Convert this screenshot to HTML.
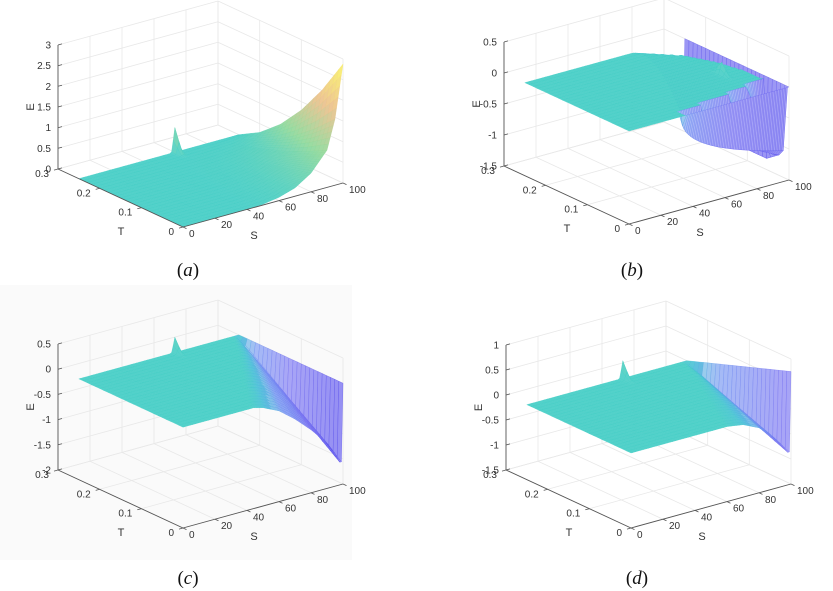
<!DOCTYPE html>
<html><head><meta charset="utf-8"><style>
html,body{margin:0;padding:0;background:#fff;}
svg{display:block;font-family:"Liberation Sans",sans-serif;}
</style></head><body>
<svg id="fig" width="833" height="591" viewBox="0 0 833 591">
<rect x="0" y="285" width="352" height="275" fill="#fafafa"/>
</svg>
<script>
// ---- data ----
const T_NODES = [0, 0.05, 0.1, 0.15, 0.2, 0.25];
const S_TICKS = [0, 20, 40, 60, 80, 100];
const T_TICKS = [0, 0.1, 0.2, 0.3];
const T_TICK_LABELS = ["0", "0.1", "0.2", "0.3"];

// panel a
const A_S = [0, 10, 20, 30, 40, 50, 60, 70, 80, 90, 95, 100];
const A_FRONT = [0, 0, 0, 0, 0, 0.02, 0.08, 0.2, 0.45, 0.9, 1.6, 2.88];
const A_DECAY = [1, 0.7, 0.45, 0.25, 0.1, 0];
const A_E_TICKS = [0, 0.5, 1, 1.5, 2, 2.5, 3];
const A_E_LABELS = ["0", "0.5", "1", "1.5", "2", "2.5", "3"];
// panel b
const B_T = [0, 0.01, 0.02, 0.03, 0.05, 0.1, 0.15, 0.2, 0.25];
const B_ONSET = [100, 35, 50, 70, 97, 96, 92, 84, 66];
const B_DEPTH = [0, 1.05, 1.15, 1.2, 1.3, 1.3, 1.3, 1.3, 1.3];
const B_POW = [1, 0.4, 0.5, 0.7, 1.5, 2, 2, 2, 2];
const B_E_TICKS = [-1.5, -1, -0.5, 0, 0.5];
const B_E_LABELS = ["-1.5", "-1", "-0.5", "0", "0.5"];
// panel c
const C_S = [44, 50, 60, 70, 80, 90, 95, 98];
const C_FRONT = [0, -0.05, -0.2, -0.45, -0.75, -1.1, -1.35, -1.55];
const C_ONSET = [44, 55, 66, 77, 88, 98];
const C_DEPTH = [1, 0.8, 0.6, 0.4, 0.2, 0];
const C_TOP = [0, 0, 0, 0, 0, 0];
const C_E_TICKS = [-2, -1.5, -1, -0.5, 0, 0.5];
const C_E_LABELS = ["-2", "-1.5", "-1", "-0.5", "0", "0.5"];
// panel d
const D_S = [60, 70, 80, 90, 95, 98];
const D_FRONT = [0, -0.05, -0.2, -0.5, -0.7, -0.85];
const D_ONSET = [60, 68, 76, 84, 92, 98];
const D_DEPTH = [1, 0.8, 0.6, 0.4, 0.2, 0];
const D_TOP = [0.75, 0.6, 0.45, 0.3, 0.15, 0];
const D_E_TICKS = [-1.5, -1, -0.5, 0, 0.5, 1];
const D_E_LABELS = ["-1.5", "-1", "-0.5", "0", "0.5", "1"];
// spikes
const SPIKE_S = [60, 84, 60, 60];
const SPIKE_T = [0.25, 0.1, 0.25, 0.25];
const SPIKE_H = [0.6, 0.2, 0.3, 0.35];

// ---- helpers ----
const NS = "http://www.w3.org/2000/svg";
const svg = document.getElementById("fig");
function interp(xs, ys, x) {
  if (x <= xs[0]) return ys[0];
  for (let i = 1; i < xs.length; i++) {
    if (x <= xs[i]) { const f = (x - xs[i-1]) / (xs[i] - xs[i-1]); return ys[i-1] + f * (ys[i] - ys[i-1]); }
  }
  return ys[ys.length - 1];
}
function spike(k, S, T) {
  return SPIKE_H[k] * Math.exp(-Math.pow((S - SPIKE_S[k]) / 1.2, 2)) * Math.exp(-Math.pow((T - SPIKE_T[k]) / 0.012, 2));
}
function profile(xsS, front, onsetArr, depthArr, topArr, S, T) {
  const on = interp(T_NODES, onsetArr, T);
  const dep = interp(T_NODES, depthArr, T);
  const top = interp(T_NODES, topArr, T);
  function core(s) {
    if (s <= on || on >= 98) return 0;
    const sp = xsS[0] + (s - on) * (98 - xsS[0]) / (98 - on);
    return interp(xsS, front, sp) * dep;
  }
  if (S <= 98) return core(S);
  const e98 = core(98);
  if (S <= 99) return e98;
  return e98 + (top - e98) * (S - 99);
}
const funcs = [
  (S, T) => interp(A_S, A_FRONT, S) * interp(T_NODES, A_DECAY, T) + spike(0, S, T),
  (S, T) => {
    const on = interp(B_T, B_ONSET, T), d = interp(B_T, B_DEPTH, T), pw = interp(B_T, B_POW, T);
    if (S <= on || on >= 99) return spike(1, S, T);
    const x = Math.min(1, (S - on) / (99 - on));
    const wall = S <= 99 ? 1 : (100 - S);
    return -d * Math.pow(x, pw) * wall + spike(1, S, T);
  },
  (S, T) => profile(C_S, C_FRONT, C_ONSET, C_DEPTH, C_TOP, S, T) + spike(2, S, T),
  (S, T) => profile(D_S, D_FRONT, D_ONSET, D_DEPTH, D_TOP, S, T) + spike(3, S, T)
];
const panels = [
  {id: "a", ox: 183, oy: 227, emin: 0, emax: 3, h: 124, ticks: A_E_TICKS, labels: A_E_LABELS, cap: [188, 276], useMin: false},
  {id: "b", ox: 629, oy: 224, emin: -1.5, emax: 0.5, h: 124, ticks: B_E_TICKS, labels: B_E_LABELS, cap: [632, 276], useMin: true},
  {id: "c", ox: 183, oy: 528, emin: -2, emax: 0.5, h: 126, ticks: C_E_TICKS, labels: C_E_LABELS, cap: [188, 584], useMin: true},
  {id: "d", ox: 631, oy: 528, emin: -1.5, emax: 1, h: 125, ticks: D_E_TICKS, labels: D_E_LABELS, cap: [637, 584], useMin: true}
];
const CMAP_E = [-1.5, -0.8, -0.3, -0.08, 0, 0.8, 1.8, 2.9];
const CMAP_R = [80, 110, 105, 70, 64, 140, 235, 250];
const CMAP_G = [70, 105, 140, 190, 204, 215, 190, 245];
const CMAP_B = [235, 240, 240, 215, 196, 150, 135, 95];
function color(e, w) {
  const r = interp(CMAP_E, CMAP_R, e), g = interp(CMAP_E, CMAP_G, e), b = interp(CMAP_E, CMAP_B, e);
  return "rgb(" + Math.round(r + (255 - r) * w) + "," + Math.round(g + (255 - g) * w) + "," + Math.round(b + (255 - b) * w) + ")";
}
function mk(tag, attrs, parent) {
  const el = document.createElementNS(NS, tag);
  for (const k in attrs) el.setAttribute(k, attrs[k]);
  (parent || svg).appendChild(el);
  return el;
}

panels.forEach((p, idx) => {
  const g = mk("g", {});
  
  
  const P = (S, T, E) => [p.ox + S / 100 * 160 - T / 0.3 * 125, p.oy - S / 100 * 44 - T / 0.3 * 58 - (E - p.emin) / (p.emax - p.emin) * p.h];
  function line(a, b, stroke, w, name) {
    const l = mk("line", {x1: a[0].toFixed(1), y1: a[1].toFixed(1), x2: b[0].toFixed(1), y2: b[1].toFixed(1), stroke: stroke, "stroke-width": w}, g);
    
    
    return l;
  }
  const gc = "#e8e8e8";
  S_TICKS.forEach(s => { line(P(s, 0, p.emin), P(s, 0.3, p.emin), gc, 0.8, 'floor-gridline'); line(P(s, 0.3, p.emin), P(s, 0.3, p.emax), gc, 0.8, 'back-wall-gridline'); });
  T_TICKS.forEach(t => { line(P(0, t, p.emin), P(100, t, p.emin), gc, 0.8, 'floor-gridline'); line(P(100, t, p.emin), P(100, t, p.emax), gc, 0.8, 'side-wall-gridline'); });
  p.ticks.forEach(e => { line(P(0, 0.3, e), P(100, 0.3, e), gc, 0.8, 'back-wall-gridline'); line(P(100, 0, e), P(100, 0.3, e), gc, 0.8, 'side-wall-gridline'); });

  // surface
  const f = funcs[idx];
  const NS_ = 100, NT = 25;
  const quads = [];
  for (let i = 0; i < NS_; i++) for (let j = 0; j < NT; j++) {
    const s0 = i, s1 = i + 1, t0 = j * 0.01, t1 = (j + 1) * 0.01;
    const e00 = f(s0, t0), e10 = f(s1, t0), e11 = f(s1, t1), e01 = f(s0, t1);
    const ce = p.useMin ? Math.min(e00, e10, e11, e01) : (e00 + e10 + e11 + e01) / 4;
    quads.push({key: (s0 + 0.5) / 100 * 0.6 + (t0 + 0.005) / 0.3 * 0.8, pts: [P(s0, t0, e00), P(s1, t0, e10), P(s1, t1, e11), P(s0, t1, e01)], e: ce});
  }
  quads.sort((a, b) => b.key - a.key);
  const sg = mk("g", {}, g);
  
  
  quads.forEach(q => {
    const w = q.e < -0.15 ? 0.4 : 0.12;
    const poly = mk("polygon", {points: q.pts.map(v => v[0].toFixed(1) + "," + v[1].toFixed(1)).join(" "), fill: color(q.e, w), stroke: color(q.e, 0), "stroke-width": 0.3, "stroke-linejoin": "round"}, sg);
    
    
  });

  // axes
  const ac = "#555";
  line(P(0, 0.3, p.emin), P(0, 0.3, p.emax), ac, 0.9, 'e-axis');
  line(P(0, 0, p.emin), P(0, 0.3, p.emin), ac, 0.9, 't-axis');
  line(P(0, 0, p.emin), P(100, 0, p.emin), ac, 0.9, 's-axis');
  function text(x, y, str, anchor, name, extra) {
    const t = mk("text", Object.assign({x: x.toFixed(1), y: y.toFixed(1), "font-size": 10, fill: "#333", "text-anchor": anchor}, extra || {}), g);
    t.textContent = str;
    
    
    return t;
  }
  p.ticks.forEach((e, k) => {
    const a = P(0, 0.3, e);
    line(a, [a[0] + 4, a[1] - 1.1], ac, 0.8, 'e-tick');
    text(a[0] - 7, a[1] + 3.5, p.labels[k], "end", 'e-tick-label');
  });
  T_TICKS.forEach((t, k) => {
    const a = P(0, t, p.emin);
    line(a, [a[0] - 4, a[1] + 1.1], ac, 0.8, 't-tick');
    text(a[0] - 9, a[1] + 8, T_TICK_LABELS[k], "end", 't-tick-label');
  });
  S_TICKS.forEach(s => {
    const a = P(s, 0, p.emin);
    line(a, [a[0] + 3.5, a[1] + 1.6], ac, 0.8, 's-tick');
    text(a[0] + 6, a[1] + 10, String(s), "start", 's-tick-label');
  });
  const el = P(0, 0.3, (p.emin + p.emax) / 2);
  text(el[0] - 24, el[1], "E", "middle", 'e-axis-title', {transform: "rotate(-90 " + (el[0] - 24).toFixed(1) + " " + el[1].toFixed(1) + ")", "font-size": 11});
  text(p.ox - 62, p.oy + 8, "T", "middle", 't-axis-title', {"font-size": 11});
  text(p.ox + 71, p.oy + 12, "S", "middle", 's-axis-title', {"font-size": 11});
  const cap = mk("text", {x: p.cap[0], y: p.cap[1], "font-size": 19, "font-family": "Liberation Serif, serif", fill: "#111", "text-anchor": "middle"}, g);
  cap.innerHTML = "(<tspan font-style='italic'>" + p.id + "</tspan>)";
  
  
});
</script>
</body></html>
